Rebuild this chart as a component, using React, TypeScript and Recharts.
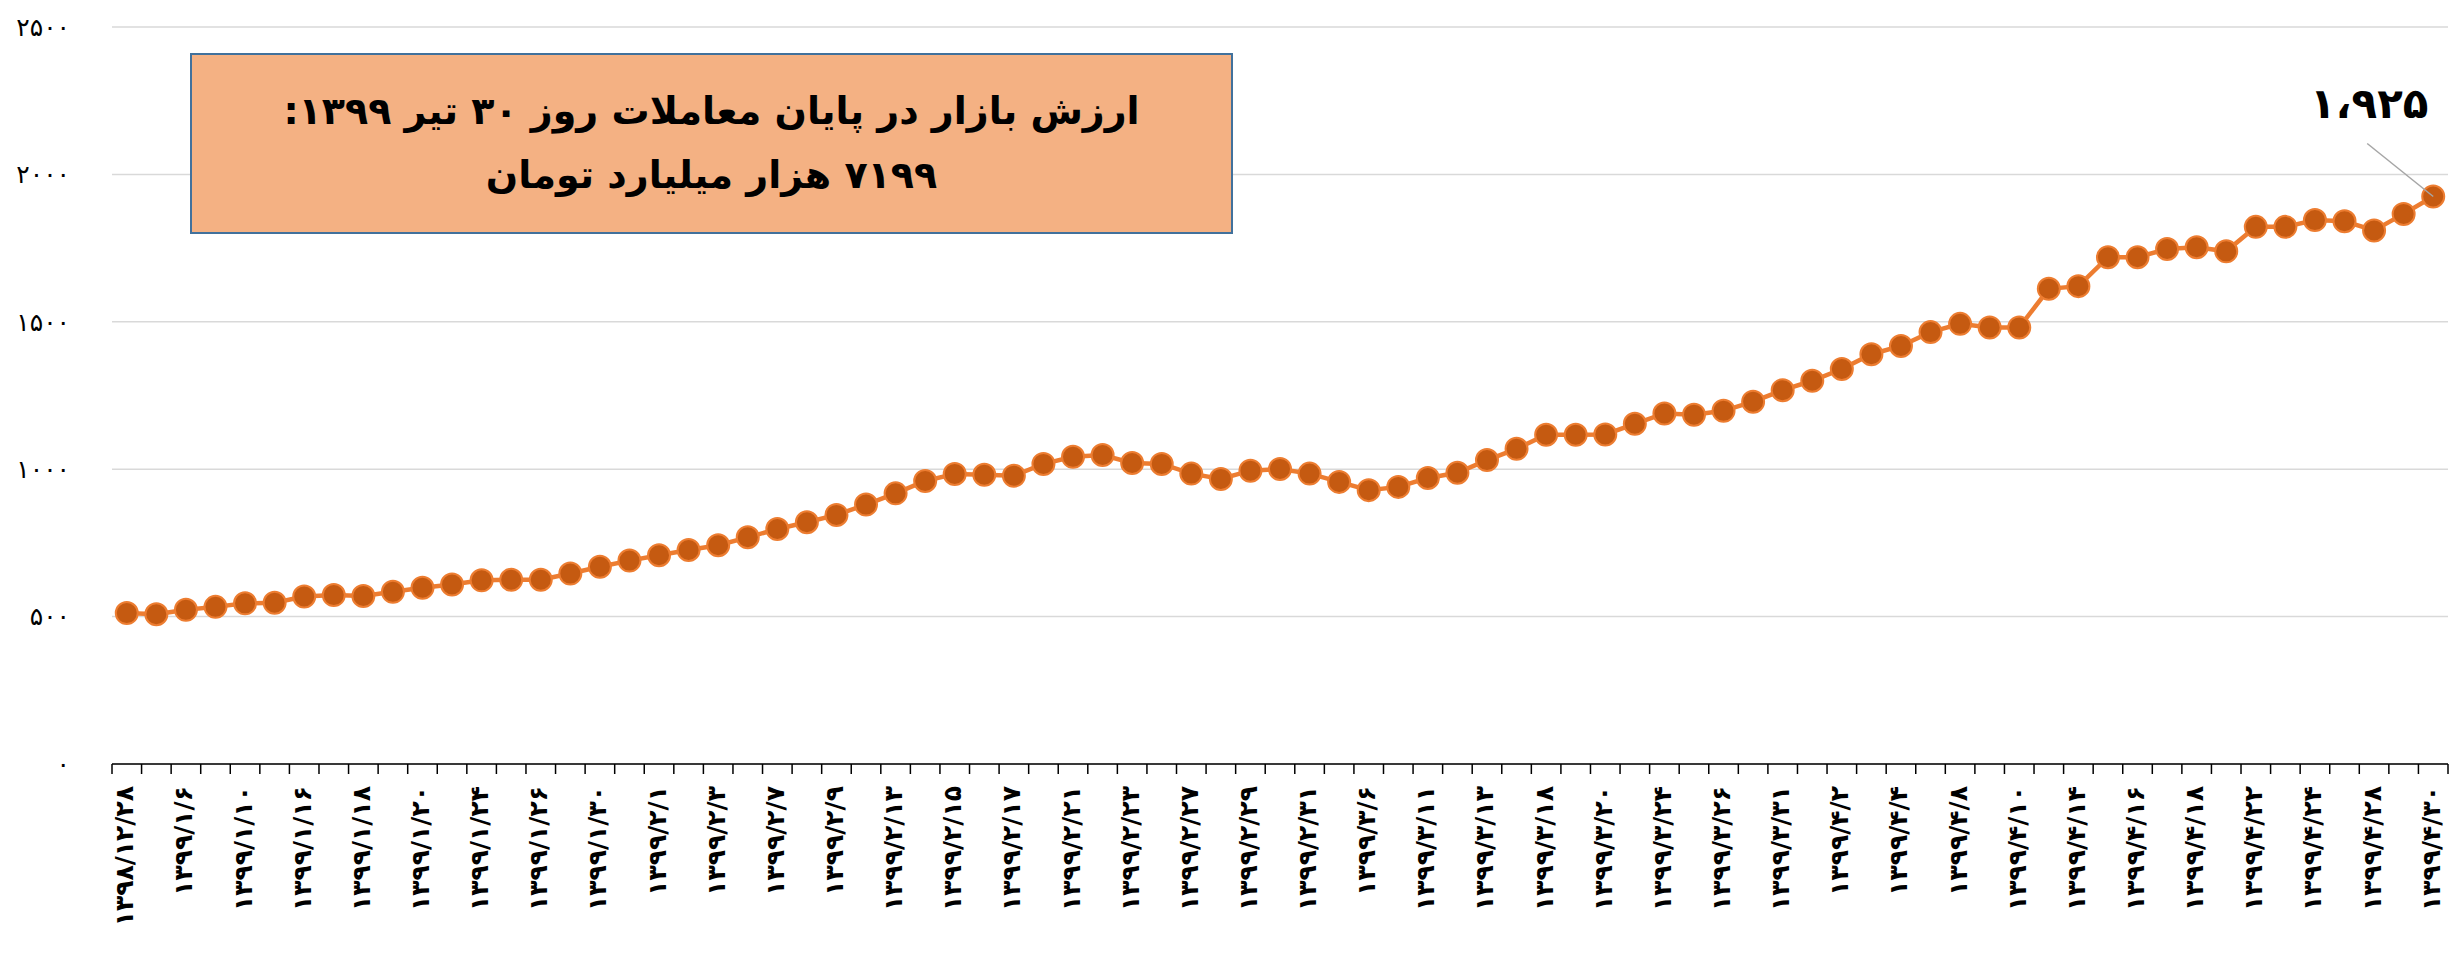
import React from "react";
import { LineChart, Line, XAxis, YAxis, CartesianGrid } from "recharts";

const dates: string[] = [
  "۱۳۹۸/۱۲/۲۸","۱۳۹۹/۱/۵","۱۳۹۹/۱/۶","۱۳۹۹/۱/۹","۱۳۹۹/۱/۱۰","۱۳۹۹/۱/۱۱","۱۳۹۹/۱/۱۶","۱۳۹۹/۱/۱۷","۱۳۹۹/۱/۱۸","۱۳۹۹/۱/۱۹",
  "۱۳۹۹/۱/۲۰","۱۳۹۹/۱/۲۳","۱۳۹۹/۱/۲۴","۱۳۹۹/۱/۲۵","۱۳۹۹/۱/۲۶","۱۳۹۹/۱/۲۷","۱۳۹۹/۱/۳۰","۱۳۹۹/۱/۳۱","۱۳۹۹/۲/۱","۱۳۹۹/۲/۲",
  "۱۳۹۹/۲/۳","۱۳۹۹/۲/۶","۱۳۹۹/۲/۷","۱۳۹۹/۲/۸","۱۳۹۹/۲/۹","۱۳۹۹/۲/۱۰","۱۳۹۹/۲/۱۳","۱۳۹۹/۲/۱۴","۱۳۹۹/۲/۱۵","۱۳۹۹/۲/۱۶",
  "۱۳۹۹/۲/۱۷","۱۳۹۹/۲/۲۰","۱۳۹۹/۲/۲۱","۱۳۹۹/۲/۲۲","۱۳۹۹/۲/۲۳","۱۳۹۹/۲/۲۴","۱۳۹۹/۲/۲۷","۱۳۹۹/۲/۲۸","۱۳۹۹/۲/۲۹","۱۳۹۹/۲/۳۰",
  "۱۳۹۹/۲/۳۱","۱۳۹۹/۳/۳","۱۳۹۹/۳/۶","۱۳۹۹/۳/۱۰","۱۳۹۹/۳/۱۱","۱۳۹۹/۳/۱۲","۱۳۹۹/۳/۱۳","۱۳۹۹/۳/۱۷","۱۳۹۹/۳/۱۸","۱۳۹۹/۳/۱۹",
  "۱۳۹۹/۳/۲۰","۱۳۹۹/۳/۲۱","۱۳۹۹/۳/۲۴","۱۳۹۹/۳/۲۵","۱۳۹۹/۳/۲۶","۱۳۹۹/۳/۲۷","۱۳۹۹/۳/۳۱","۱۳۹۹/۴/۱","۱۳۹۹/۴/۲","۱۳۹۹/۴/۳",
  "۱۳۹۹/۴/۴","۱۳۹۹/۴/۷","۱۳۹۹/۴/۸","۱۳۹۹/۴/۹","۱۳۹۹/۴/۱۰","۱۳۹۹/۴/۱۱","۱۳۹۹/۴/۱۴","۱۳۹۹/۴/۱۵","۱۳۹۹/۴/۱۶","۱۳۹۹/۴/۱۷",
  "۱۳۹۹/۴/۱۸","۱۳۹۹/۴/۲۱","۱۳۹۹/۴/۲۲","۱۳۹۹/۴/۲۳","۱۳۹۹/۴/۲۴","۱۳۹۹/۴/۲۵","۱۳۹۹/۴/۲۸","۱۳۹۹/۴/۲۹","۱۳۹۹/۴/۳۰",
];

const marketValue: number[] = [
  512, 508, 523, 533, 545, 547, 568, 573, 570, 584,
  598, 609, 623, 625, 625, 646, 669, 690, 708, 726,
  742, 769, 797, 820, 845, 880, 918, 960, 984, 981,
  978, 1018, 1042, 1048, 1021, 1018, 985, 967, 995, 1001,
  985, 957, 929, 940, 970, 988, 1031, 1069, 1117, 1117,
  1118, 1154, 1189, 1185, 1198, 1229, 1268, 1300, 1340, 1390,
  1418, 1465, 1493, 1481, 1481, 1612, 1621, 1719, 1719, 1747,
  1753, 1739, 1822, 1822, 1845, 1841, 1810, 1866, 1925,
];

const yTicks: number[] = [0, 500, 1000, 1500, 2000, 2500];
const lastValueLabel = "۱،۹۲۵";
const titleLine1 = "ارزش بازار در پایان معاملات روز ۳۰ تیر ۱۳۹۹:";
const titleLine2 = "۷۱۹۹ هزار میلیارد تومان";

const data = dates.map((d, i) => ({ date: d, value: marketValue[i] }));

const faDigits = "۰۱۲۳۴۵۶۷۸۹";
const toFa = (v: number | string) => String(v).replace(/[0-9]/g, (c) => faDigits[Number(c)]);

const W = 2463;
const H = 965;
const M = { top: 27, right: 15, left: 0, bottom: 0 };
const Y_W = 112;
const X_H = 201;
const PLOT_W = W - M.left - M.right - Y_W;
const CAT_W = PLOT_W / dates.length;
const FONT = "'DejaVu Sans', 'Noto Sans', sans-serif";

const XTick = (props: any) => {
  const { x, y, payload } = props;
  const idx = props.index ?? payload.index;
  const half = CAT_W / 2;
  const isLast = idx === dates.length - 1;
  return (
    <g>
      <line x1={x - half} y1={y} x2={x - half} y2={y + 10} stroke="#000" strokeWidth={1.5} />
      {isLast && <line x1={x + half} y1={y} x2={x + half} y2={y + 10} stroke="#000" strokeWidth={1.5} />}
      {idx % 2 === 0 && (
        <text
          transform={`translate(${x - 2}, ${y + 22}) rotate(-90)`}
          textAnchor="end"
          dominantBaseline="central"
          fontFamily={FONT}
          fontWeight="bold"
          fontSize={25}
          fill="#000"
        >
          {payload.value}
        </text>
      )}
    </g>
  );
};

const LastLabel = (props: any) => {
  const { x, y, index } = props;
  if (index !== dates.length - 1) return <g />;
  return (
    <g>
      <line x1={x - 66} y1={y - 53} x2={x} y2={y} stroke="#A6A6A6" strokeWidth={1.5} />
      <text x={x - 64} y={y - 79} textAnchor="middle" fontFamily={FONT} fontWeight="bold" fontSize={42} fill="#000">
        {lastValueLabel}
      </text>
    </g>
  );
};

export default function App() {
  return (
    <div style={{ position: "absolute", left: 0, top: 0, width: W, height: H, background: "#fff" }}>
      <LineChart width={W} height={H} data={data} margin={M}>
        <CartesianGrid horizontal vertical={false} stroke="#D9D9D9" strokeWidth={1.5} />
        <XAxis
          dataKey="date"
          interval={0}
          height={X_H}
          tick={<XTick />}
          tickLine={false}
          tickSize={0}
          tickMargin={0}
          axisLine={{ stroke: "#000", strokeWidth: 1.5 }}
          padding={{ left: CAT_W / 2, right: CAT_W / 2 }}
        />
        <YAxis
          width={Y_W}
          domain={[0, 2500]}
          ticks={yTicks}
          interval={0}
          axisLine={false}
          tickLine={false}
          tickSize={0}
          tickMargin={42}
          tickFormatter={(v: number) => toFa(v)}
          tick={{ fontFamily: FONT, fontSize: 25, fill: "#000" }}
        />
        <Line
          type="linear"
          dataKey="value"
          stroke="#ED7D31"
          strokeWidth={4.5}
          dot={{ r: 11, fill: "#C55A11", stroke: "#ED7D31", strokeWidth: 2 }}
          activeDot={false}
          isAnimationActive={false}
          label={<LastLabel />}
        />
      </LineChart>
      <div
        style={{
          position: "absolute",
          left: 190,
          top: 53,
          width: 1043,
          height: 181,
          boxSizing: "border-box",
          border: "2.5px solid #41719C",
          background: "#F4B183",
          direction: "rtl",
          textAlign: "center",
          fontFamily: FONT,
          fontWeight: "bold",
          fontSize: 38,
          lineHeight: "64px",
          color: "#000",
          paddingTop: 24,
        }}
      >
        <div>{titleLine1}</div>
        <div>{titleLine2}</div>
      </div>
    </div>
  );
}
